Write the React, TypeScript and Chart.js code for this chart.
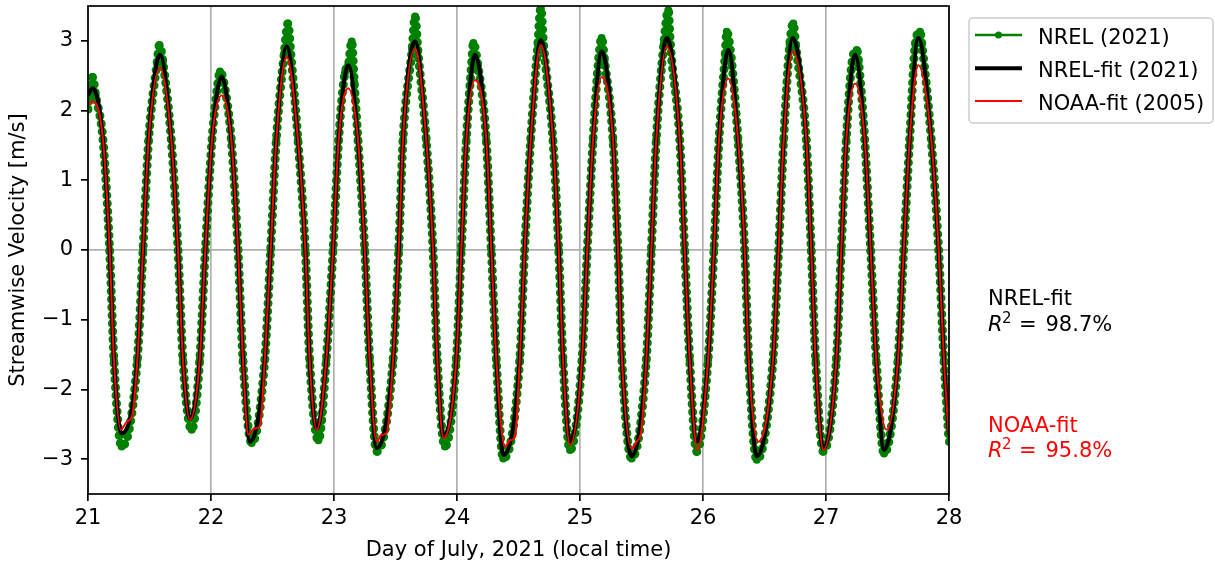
import React, { useEffect, useRef } from 'react';
import { Chart, registerables } from 'chart.js';

Chart.register(...registerables);

const W = 1215;
const H = 565;
const FONT = "'DejaVu Sans', 'Noto Sans', sans-serif";

// Axis ticks
const xTicks = [21, 22, 23, 24, 25, 26, 27, 28];
const yTicks = [-3, -2, -1, 0, 1, 2, 3];

// Series labels
const seriesLabels = ['NREL (2021)', 'NREL-fit (2021)', 'NOAA-fit (2005)'];

// NREL measured data (day of July, m/s)
const nrelDays = [
  21.000, 21.014, 21.038, 21.062, 21.122, 21.176, 21.211, 21.274, 21.401, 21.447, 21.493,
  21.561, 21.581, 21.609, 21.677, 21.732, 21.772, 21.843, 21.908, 21.954, 22.008,
  22.055, 22.073, 22.105, 22.165, 22.220, 22.260, 22.331, 22.437, 22.485, 22.531,
  22.595, 22.626, 22.650, 22.707, 22.767, 22.802, 22.873, 22.937, 22.992, 23.038,
  23.090, 23.116, 23.144, 23.165, 23.195, 23.250, 23.290, 23.347, 23.480, 23.526, 23.561,
  23.635, 23.659, 23.683, 23.750, 23.805, 23.840, 23.902, 23.994, 24.035, 24.076,
  24.120, 24.133, 24.170, 24.238, 24.279, 24.320, 24.376, 24.510, 24.550, 24.599,
  24.657, 24.681, 24.705, 24.780, 24.827, 24.862, 24.919, 25.016, 25.059, 25.106,
  25.152, 25.176, 25.200, 25.268, 25.309, 25.341, 25.420, 25.539, 25.580, 25.620,
  25.681, 25.718, 25.735, 25.811, 25.851, 25.892, 25.949, 26.041, 26.089, 26.130,
  26.180, 26.193, 26.230, 26.285, 26.339, 26.372, 26.437, 26.569, 26.615, 26.656,
  26.705, 26.734, 26.755, 26.840, 26.880, 26.916, 26.978, 27.084, 27.124, 27.165,
  27.212, 27.250, 27.265, 27.315, 27.363, 27.409, 27.472, 27.585, 27.632, 27.680,
  27.726, 27.764, 27.780, 27.856, 27.916, 27.959, 28.000,
];
const nrelVel = [
  2.02, 2.20, 2.48, 2.22, 1.58, 0, -1.58, -2.82, -1.58, 0, 1.58,
  2.68, 2.94, 2.70, 1.58, 0, -1.58, -2.58, -1.58, 0, 1.58,
  2.38, 2.56, 2.40, 1.58, 0, -1.58, -2.77, -1.58, 0, 1.58,
  2.82, 3.25, 2.80, 1.58, 0, -1.58, -2.73, -1.58, 0, 1.58,
  2.55, 2.65, 2.99, 2.40, 1.58, 0, -1.58, -2.89, -1.58, 0, 1.58,
  2.88, 3.35, 2.85, 1.58, 0, -1.58, -2.82, -1.58, 0, 1.58,
  2.70, 2.97, 2.65, 1.58, 0, -1.58, -2.99, -1.58, 0, 1.58,
  2.95, 3.47, 2.92, 1.58, 0, -1.58, -2.87, -1.58, 0, 1.58,
  2.75, 3.04, 2.72, 1.58, 0, -1.58, -2.99, -1.58, 0, 1.58,
  2.95, 3.44, 2.95, 1.58, 0, -1.58, -2.89, -1.58, 0, 1.58,
  2.80, 3.13, 2.75, 1.58, 0, -1.58, -3.01, -1.58, 0, 1.58,
  2.95, 3.25, 2.92, 1.58, 0, -1.58, -2.89, -1.58, 0, 1.58,
  2.70, 2.87, 2.70, 1.58, 0, -1.58, -2.92, -1.58, 0, 1.58,
  2.95, 3.13, 2.95, 1.58, 0, -1.58, -2.75,
];

// NREL harmonic fit
const nrelFitDays = [
  21.000, 21.038, 21.122, 21.176, 21.211, 21.274, 21.401, 21.447, 21.493,
  21.585, 21.677, 21.732, 21.772, 21.829, 21.908, 21.954, 22.008,
  22.087, 22.165, 22.220, 22.260, 22.317, 22.437, 22.485, 22.531,
  22.615, 22.707, 22.767, 22.802, 22.859, 22.937, 22.992, 23.038,
  23.116, 23.195, 23.250, 23.290, 23.347, 23.480, 23.526, 23.561,
  23.659, 23.750, 23.805, 23.840, 23.889, 23.994, 24.035, 24.076,
  24.146, 24.238, 24.279, 24.320, 24.376, 24.510, 24.550, 24.599,
  24.681, 24.780, 24.827, 24.862, 24.919, 25.016, 25.059, 25.106,
  25.176, 25.268, 25.309, 25.341, 25.420, 25.539, 25.580, 25.620,
  25.705, 25.811, 25.851, 25.892, 25.949, 26.041, 26.089, 26.130,
  26.206, 26.285, 26.339, 26.372, 26.437, 26.569, 26.615, 26.656,
  26.729, 26.840, 26.880, 26.916, 26.978, 27.084, 27.124, 27.165,
  27.236, 27.315, 27.363, 27.409, 27.472, 27.585, 27.632, 27.680,
  27.750, 27.856, 27.916, 27.959, 28.000,
];
const nrelFitVel = [
  2.22, 2.32, 1.58, 0, -1.58, -2.63, -1.58, 0, 1.58,
  2.80, 1.58, 0, -1.58, -2.42, -1.58, 0, 1.58,
  2.49, 1.58, 0, -1.58, -2.75, -1.58, 0, 1.58,
  2.92, 1.58, 0, -1.58, -2.56, -1.58, 0, 1.58,
  2.65, 1.58, 0, -1.58, -2.84, -1.58, 0, 1.58,
  2.99, 1.58, 0, -1.58, -2.68, -1.58, 0, 1.58,
  2.80, 1.58, 0, -1.58, -2.94, -1.58, 0, 1.58,
  3.01, 1.58, 0, -1.58, -2.75, -1.58, 0, 1.58,
  2.85, 1.58, 0, -1.58, -2.96, -1.58, 0, 1.58,
  3.04, 1.58, 0, -1.58, -2.75, -1.58, 0, 1.58,
  2.87, 1.58, 0, -1.58, -2.96, -1.58, 0, 1.58,
  3.04, 1.58, 0, -1.58, -2.85, -1.58, 0, 1.58,
  2.80, 1.58, 0, -1.58, -2.87, -1.58, 0, 1.58,
  3.04, 1.58, 0, -1.58, -2.65,
];

// NOAA harmonic fit (2005 constituents)
const noaaFitDays = [
  21.000, 21.038, 21.122, 21.176, 21.211, 21.268, 21.317, 21.358, 21.401, 21.447, 21.493,
  21.585, 21.677, 21.732, 21.772, 21.829, 21.908, 21.954, 22.008,
  22.087, 22.165, 22.220, 22.260, 22.303, 22.350, 22.398, 22.437, 22.485, 22.531,
  22.615, 22.707, 22.767, 22.802, 22.859, 22.937, 22.992, 23.038,
  23.116, 23.195, 23.250, 23.290, 23.347, 23.388, 23.428, 23.480, 23.526, 23.561,
  23.659, 23.750, 23.805, 23.840, 23.889, 23.994, 24.035, 24.076,
  24.146, 24.238, 24.279, 24.320, 24.390, 24.431, 24.472, 24.510, 24.550, 24.599,
  24.681, 24.780, 24.827, 24.862, 24.919, 25.016, 25.059, 25.106,
  25.176, 25.268, 25.309, 25.341, 25.420, 25.463, 25.496, 25.539, 25.580, 25.620,
  25.705, 25.811, 25.851, 25.892, 25.955, 26.041, 26.089, 26.130,
  26.206, 26.285, 26.339, 26.372, 26.450, 26.569, 26.615, 26.656,
  26.729, 26.840, 26.880, 26.916, 26.978, 27.084, 27.124, 27.165,
  27.236, 27.315, 27.363, 27.409, 27.494, 27.585, 27.632, 27.680,
  27.750, 27.856, 27.916, 27.959, 28.000,
];
const noaaFitVel = [
  2.08, 2.13, 1.58, 0, -1.58, -2.58, -2.46, -2.39, -1.58, 0, 1.58,
  2.61, 1.58, 0, -1.58, -2.44, -1.58, 0, 1.58,
  2.22, 1.58, 0, -1.58, -2.65, -2.56, -2.53, -1.58, 0, 1.58,
  2.77, 1.58, 0, -1.58, -2.58, -1.58, 0, 1.58,
  2.32, 1.58, 0, -1.58, -2.75, -2.65, -2.63, -1.58, 0, 1.58,
  2.89, 1.58, 0, -1.58, -2.70, -1.58, 0, 1.58,
  2.44, 1.58, 0, -1.58, -2.82, -2.73, -2.68, -1.58, 0, 1.58,
  2.94, 1.58, 0, -1.58, -2.80, -1.58, 0, 1.58,
  2.48, 1.58, 0, -1.58, -2.85, -2.74, -2.62, -1.58, 0, 1.58,
  2.92, 1.58, 0, -1.58, -2.87, -1.58, 0, 1.58,
  2.46, 1.58, 0, -1.58, -2.75, -1.58, 0, 1.58,
  2.85, 1.58, 0, -1.58, -2.87, -1.58, 0, 1.58,
  2.39, 1.58, 0, -1.58, -2.58, -1.58, 0, 1.58,
  2.65, 1.58, 0, -1.58, -2.72,
];

// Goodness-of-fit annotations
const fitNames = ['NREL-fit', 'NOAA-fit'];
const fitR2 = ['98.7%', '95.8%'];

const GREEN = '#008000';
const RED = '#ff0000';
const GRID = '#b0b0b0';

function pts(xs: number[], ys: number[]) {
  return xs.map((x, i) => ({ x, y: ys[i] }));
}

function drawR2(ctx: CanvasRenderingContext2D, x: number, y: number, val: string, color: string) {
  ctx.fillStyle = color;
  ctx.textAlign = 'left';
  ctx.textBaseline = 'alphabetic';
  ctx.font = `italic 21px ${FONT}`;
  ctx.fillText('R', x, y);
  ctx.font = `15px ${FONT}`;
  ctx.fillText('2', x + 14, y - 8);
  ctx.font = `21px ${FONT}`;
  ctx.fillText('=', x + 31, y);
  ctx.fillText(val, x + 57.5, y);
}

const overlayPlugin = {
  id: 'overlay',
  afterDatasetsDraw(chart: any) {
    const { ctx, chartArea: a } = chart;
    ctx.save();
    ctx.strokeStyle = '#000';
    ctx.lineWidth = 1.7;
    ctx.strokeRect(a.left, a.top, a.right - a.left, a.bottom - a.top);
    ctx.restore();
  },
  afterDraw(chart: any) {
    const ctx: CanvasRenderingContext2D = chart.ctx;
    ctx.save();
    // legend frame
    const bx = 969, by = 18, bw = 244, bh = 105, r = 4;
    ctx.beginPath();
    ctx.moveTo(bx + r, by);
    ctx.lineTo(bx + bw - r, by);
    ctx.arcTo(bx + bw, by, bx + bw, by + r, r);
    ctx.lineTo(bx + bw, by + bh - r);
    ctx.arcTo(bx + bw, by + bh, bx + bw - r, by + bh, r);
    ctx.lineTo(bx + r, by + bh);
    ctx.arcTo(bx, by + bh, bx, by + bh - r, r);
    ctx.lineTo(bx, by + r);
    ctx.arcTo(bx, by, bx + r, by, r);
    ctx.closePath();
    ctx.fillStyle = 'rgba(255,255,255,0.8)';
    ctx.fill();
    ctx.strokeStyle = '#cccccc';
    ctx.lineWidth = 1.5;
    ctx.stroke();

    const rows = [35, 68.3, 101];
    const colors = [GREEN, '#000', RED];
    const widths = [2.7, 4, 1.8];
    rows.forEach((ry, i) => {
      ctx.beginPath();
      ctx.moveTo(975, ry);
      ctx.lineTo(1022, ry);
      ctx.strokeStyle = colors[i];
      ctx.lineWidth = widths[i];
      ctx.lineCap = 'butt';
      ctx.stroke();
      if (i === 0) {
        ctx.beginPath();
        ctx.arc(998.5, ry, 3.5, 0, Math.PI * 2);
        ctx.fillStyle = GREEN;
        ctx.fill();
      }
      ctx.fillStyle = '#000';
      ctx.font = `21px ${FONT}`;
      ctx.textAlign = 'left';
      ctx.textBaseline = 'alphabetic';
      ctx.fillText(seriesLabels[i], 1038, ry + 8.5);
    });

    // fit annotations
    ctx.font = `21px ${FONT}`;
    ctx.textAlign = 'left';
    ctx.textBaseline = 'alphabetic';
    ctx.fillStyle = '#000';
    ctx.fillText(fitNames[0], 988, 305);
    drawR2(ctx, 988, 331, fitR2[0], '#000');
    ctx.fillStyle = RED;
    ctx.font = `21px ${FONT}`;
    ctx.fillText(fitNames[1], 988, 432);
    drawR2(ctx, 988, 457, fitR2[1], RED);
    ctx.restore();
  },
};

export default function App() {
  const ref = useRef<HTMLCanvasElement>(null);
  useEffect(() => {
    const chart = new Chart(ref.current as HTMLCanvasElement, {
      type: 'line',
      data: {
        datasets: [
          {
            label: seriesLabels[2],
            data: pts(noaaFitDays, noaaFitVel),
            borderColor: RED,
            borderWidth: 2,
            pointRadius: 0,
            cubicInterpolationMode: 'monotone',
            order: 1,
          },
          {
            label: seriesLabels[1],
            data: pts(nrelFitDays, nrelFitVel),
            borderColor: '#000',
            borderWidth: 4,
            pointRadius: 0,
            cubicInterpolationMode: 'monotone',
            order: 2,
          },
          {
            label: seriesLabels[0],
            data: pts(nrelDays, nrelVel),
            borderColor: GREEN,
            borderWidth: 9,
            borderDash: [0, 8],
            borderCapStyle: 'round',
            pointRadius: 4,
            pointBackgroundColor: GREEN,
            pointBorderWidth: 0,
            cubicInterpolationMode: 'monotone',
            order: 3,
          },
        ] as any,
      },
      options: {
        animation: false,
        responsive: false,
        events: [],
        layout: { padding: { left: 0, top: 6, right: W - 949, bottom: 0 } },
        plugins: { legend: { display: false }, tooltip: { enabled: false } },
        scales: {
          x: {
            type: 'linear',
            min: 21,
            max: 28,
            afterBuildTicks: (s: any) => {
              s.ticks = xTicks.map((v) => ({ value: v }));
            },
            afterFit: (s: any) => {
              s.height = 71;
              s.paddingLeft = 0;
              s.paddingRight = 0;
            },
            border: { display: false },
            grid: {
              color: GRID,
              lineWidth: 1.7,
              tickColor: '#000',
              tickWidth: 1.7,
              tickLength: 7,
              drawTicks: true,
            },
            ticks: {
              font: { family: FONT, size: 21 },
              color: '#000',
              padding: 5,
              maxRotation: 0,
              callback: (v: any) => String(v),
            },
            title: {
              display: true,
              text: 'Day of July, 2021 (local time)',
              font: { family: FONT, size: 21 },
              color: '#000',
              padding: { top: 0, bottom: 2 },
            },
          },
          y: {
            type: 'linear',
            min: -3.5,
            max: 3.5,
            afterBuildTicks: (s: any) => {
              s.ticks = yTicks.map((v) => ({ value: v }));
            },
            afterFit: (s: any) => {
              s.width = 88;
              s.paddingTop = 0;
              s.paddingBottom = 0;
            },
            border: { display: false },
            grid: {
              color: (c: any) => (c.tick && c.tick.value === 0 ? GRID : 'rgba(0,0,0,0)'),
              lineWidth: 1.7,
              tickColor: '#000',
              tickWidth: 1.7,
              tickLength: 7,
              drawTicks: true,
            },
            ticks: {
              font: { family: FONT, size: 21 },
              color: '#000',
              padding: 8,
              callback: (v: any) => (Number(v) < 0 ? '\u2212' + Math.abs(Number(v)) : String(v)),
            },
            title: {
              display: true,
              text: 'Streamwise Velocity [m/s]',
              font: { family: FONT, size: 21 },
              color: '#000',
              padding: { top: 6, bottom: 0 },
            },
          },
        },
      } as any,
      plugins: [overlayPlugin],
    });
    return () => chart.destroy();
  }, []);
  return (
    <div style={{ position: 'absolute', left: 0, top: 0, width: W, height: H, background: '#fff' }}>
      <canvas ref={ref} width={W} height={H} style={{ display: 'block', width: W, height: H }} />
    </div>
  );
}
